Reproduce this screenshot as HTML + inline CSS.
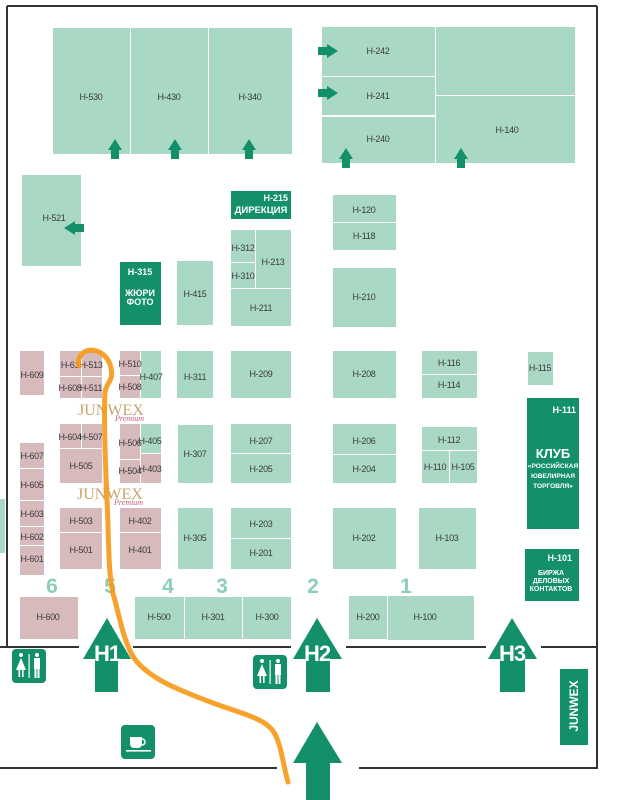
<!DOCTYPE html>
<html><head><meta charset="utf-8"><style>
html,body{margin:0;padding:0;background:#fff;}
svg{display:block;}
text{font-family:"Liberation Sans",sans-serif;}
.l{font-size:9px;fill:#3a3a3a;text-anchor:middle;letter-spacing:-0.3px;}
.w{fill:#fff;font-weight:bold;text-anchor:middle;}
.n{font-size:21px;font-weight:bold;fill:#8dcfb6;text-anchor:middle;}
</style></head><body>
<svg width="617" height="800" viewBox="0 0 617 800" xmlns="http://www.w3.org/2000/svg">
<!-- walls -->
<g stroke="#333" stroke-width="2" fill="none">
<line x1="7" y1="6" x2="597" y2="6"/>
<line x1="7" y1="6" x2="7" y2="647"/>
<line x1="597" y1="6" x2="597" y2="769"/>
<line x1="0" y1="647" x2="79" y2="647"/>
<line x1="133" y1="647" x2="291" y2="647"/>
<line x1="346" y1="647" x2="486" y2="647"/>
<line x1="541" y1="647" x2="597" y2="647"/>
<line x1="0" y1="768" x2="277" y2="768"/>
<line x1="359" y1="768" x2="597" y2="768"/>
</g>
<!-- light green boxes -->
<g fill="#a9d9c5">
<rect x="53" y="28" width="77" height="126"/>
<rect x="131" y="28" width="77" height="126"/>
<rect x="209" y="28" width="83" height="126"/>
<rect x="322" y="27" width="113" height="49"/>
<rect x="322" y="77" width="113" height="38"/>
<rect x="322" y="117" width="113" height="46"/>
<rect x="436" y="27" width="139" height="68"/>
<rect x="436" y="96" width="139" height="67"/>
<rect x="22" y="175" width="59" height="91"/>
<rect x="231" y="230" width="24" height="32"/>
<rect x="231" y="263" width="24" height="25"/>
<rect x="256" y="230" width="35" height="58"/>
<rect x="231" y="289" width="60" height="37"/>
<rect x="177" y="261" width="36" height="64"/>
<rect x="333" y="195" width="63" height="27"/>
<rect x="333" y="223" width="63" height="27"/>
<rect x="333" y="268" width="63" height="59"/>
<rect x="141" y="351" width="20" height="47"/>
<rect x="177" y="351" width="36" height="47"/>
<rect x="231" y="351" width="60" height="47"/>
<rect x="333" y="351" width="63" height="47"/>
<rect x="422" y="351" width="55" height="23"/>
<rect x="422" y="375" width="55" height="23"/>
<rect x="528" y="352" width="25" height="33"/>
<rect x="141" y="424" width="20" height="29"/>
<rect x="178" y="425" width="35" height="58"/>
<rect x="231" y="424" width="60" height="29"/>
<rect x="231" y="454" width="60" height="29"/>
<rect x="333" y="424" width="63" height="30"/>
<rect x="333" y="455" width="63" height="28"/>
<rect x="422" y="427" width="55" height="23"/>
<rect x="422" y="451" width="27" height="32"/>
<rect x="450" y="451" width="27" height="32"/>
<rect x="178" y="508" width="35" height="61"/>
<rect x="231" y="508" width="60" height="30"/>
<rect x="231" y="539" width="60" height="30"/>
<rect x="333" y="508" width="63" height="61"/>
<rect x="419" y="508" width="57" height="61"/>
<rect x="135" y="597" width="49" height="42"/>
<rect x="185" y="597" width="57" height="42"/>
<rect x="243" y="597" width="48" height="42"/>
<rect x="349" y="596" width="38" height="43"/>
<rect x="388" y="596" width="86" height="44"/>
<rect x="0" y="499" width="5" height="54"/>
</g>
<!-- pink boxes -->
<g fill="#d7babb">
<rect x="20" y="351" width="24" height="44"/>
<rect x="60" y="351" width="21" height="25"/>
<rect x="82" y="351" width="20" height="25"/>
<rect x="60" y="377" width="21" height="21"/>
<rect x="82" y="377" width="20" height="21"/>
<rect x="120" y="351" width="20" height="24"/>
<rect x="120" y="376" width="20" height="22"/>
<rect x="60" y="424" width="21" height="24"/>
<rect x="82" y="424" width="20" height="24"/>
<rect x="60" y="449" width="42" height="34"/>
<rect x="120" y="424" width="20" height="35"/>
<rect x="120" y="460" width="20" height="23"/>
<rect x="141" y="454" width="20" height="29"/>
<rect x="20" y="443" width="24" height="25"/>
<rect x="20" y="469" width="24" height="31"/>
<rect x="20" y="501" width="24" height="25"/>
<rect x="20" y="527" width="24" height="18"/>
<rect x="20" y="546" width="24" height="29"/>
<rect x="60" y="508" width="42" height="24"/>
<rect x="60" y="533" width="42" height="36"/>
<rect x="120" y="508" width="41" height="24"/>
<rect x="120" y="533" width="41" height="36"/>
<rect x="20" y="597" width="58" height="42"/>
</g>
<!-- dark green boxes -->
<g fill="#13906a">
<rect x="231" y="191" width="60" height="28"/>
<rect x="120" y="262" width="41" height="63"/>
<rect x="527" y="398" width="52" height="131"/>
<rect x="525" y="549" width="54" height="52"/>
<rect x="560" y="669" width="28" height="76"/>
</g>
<!-- labels -->
<g class="l">
<text x="91" y="100">H-530</text>
<text x="169" y="100">H-430</text>
<text x="250" y="100">H-340</text>
<text x="378" y="54">H-242</text>
<text x="378" y="99">H-241</text>
<text x="378" y="142">H-240</text>
<text x="507" y="133">H-140</text>
<text x="54" y="221">H-521</text>
<text x="243" y="251">H-312</text>
<text x="243" y="279">H-310</text>
<text x="273" y="265">H-213</text>
<text x="261" y="311">H-211</text>
<text x="195" y="297">H-415</text>
<text x="364" y="213">H-120</text>
<text x="364" y="239">H-118</text>
<text x="364" y="300">H-210</text>
<text x="151" y="380">H-407</text>
<text x="195" y="380">H-311</text>
<text x="261" y="377">H-209</text>
<text x="364" y="377">H-208</text>
<text x="449" y="366">H-116</text>
<text x="449" y="388">H-114</text>
<text x="540" y="371">H-115</text>
<text x="150" y="444">H-405</text>
<text x="195" y="457">H-307</text>
<text x="261" y="444">H-207</text>
<text x="261" y="472">H-205</text>
<text x="364" y="444">H-206</text>
<text x="364" y="472">H-204</text>
<text x="449" y="443">H-112</text>
<text x="435" y="470">H-110</text>
<text x="463" y="470">H-105</text>
<text x="195" y="541">H-305</text>
<text x="261" y="527">H-203</text>
<text x="261" y="556">H-201</text>
<text x="364" y="541">H-202</text>
<text x="447" y="541">H-103</text>
<text x="159" y="620">H-500</text>
<text x="213" y="620">H-301</text>
<text x="267" y="620">H-300</text>
<text x="368" y="620">H-200</text>
<text x="425" y="620">H-100</text>
<text x="32" y="378">H-609</text>
<text x="70" y="368">H-61</text>
<text x="91" y="368">H-513</text>
<text x="70" y="391">H-608</text>
<text x="91" y="391">H-511</text>
<text x="130" y="367">H-510</text>
<text x="130" y="390">H-508</text>
<text x="70" y="440">H-604</text>
<text x="91" y="440">H-507</text>
<text x="81" y="469">H-505</text>
<text x="130" y="446">H-506</text>
<text x="130" y="474">H-504</text>
<text x="150" y="472">H-403</text>
<text x="32" y="459">H-607</text>
<text x="32" y="488">H-605</text>
<text x="32" y="517">H-603</text>
<text x="32" y="540">H-602</text>
<text x="32" y="562">H-601</text>
<text x="81" y="524">H-503</text>
<text x="81" y="553">H-501</text>
<text x="140" y="524">H-402</text>
<text x="140" y="553">H-401</text>
<text x="48" y="620">H-600</text>
</g>
<!-- dark box text -->
<g class="w">
<text x="288" y="201" font-size="9" text-anchor="end" style="text-anchor:end">H-215</text>
<text x="261" y="213" font-size="9.5">ДИРЕКЦИЯ</text>
<text x="140" y="275" font-size="9">H-315</text>
<text x="140" y="296" font-size="9">ЖЮРИ</text>
<text x="140" y="305" font-size="9">ФОТО</text>
<text x="576" y="413" font-size="9" style="text-anchor:end">H-111</text>
<text x="553" y="458" font-size="13">КЛУБ</text>
<text x="553" y="468" font-size="6.6">«РОССИЙСКАЯ</text>
<text x="553" y="478" font-size="6.6">ЮВЕЛИРНАЯ</text>
<text x="553" y="488" font-size="6.6">ТОРГОВЛЯ»</text>
<text x="572" y="561" font-size="9" style="text-anchor:end">H-101</text>
<text x="551" y="575" font-size="7">БИРЖА</text>
<text x="551" y="583" font-size="7">ДЕЛОВЫХ</text>
<text x="551" y="591" font-size="7">КОНТАКТОВ</text>
<text x="0" y="0" font-size="12" transform="translate(578,706) rotate(-90)">JUNWEX</text>
</g>
<!-- row numbers -->
<g class="n">
<text x="52" y="593">6</text>
<text x="110" y="593">5</text>
<text x="168" y="593">4</text>
<text x="222" y="593">3</text>
<text x="313" y="593">2</text>
<text x="406" y="593">1</text>
</g>
<!-- JUNWEX logos -->
<g>
<text x="78" y="415" font-family="Liberation Serif,serif" font-size="16" fill="#c9a26e" style="font-family:'Liberation Serif',serif">JUNWEX</text>
<text x="115" y="421" font-size="8" fill="#b8607a" font-style="italic" style="font-family:'Liberation Serif',serif">Premium</text>
<text x="77" y="499" font-size="16" fill="#c9a26e" style="font-family:'Liberation Serif',serif">JUNWEX</text>
<text x="114" y="505" font-size="8" fill="#b8607a" font-style="italic" style="font-family:'Liberation Serif',serif">Premium</text>
</g>
<!-- small arrows -->
<g fill="#13906a">
<polygon points="115,139 122,150 119,150 119,159 111,159 111,150 108,150"/>
<polygon points="175,139 182,150 179,150 179,159 171,159 171,150 168,150"/>
<polygon points="249,139 256,150 253,150 253,159 245,159 245,150 242,150"/>
<polygon points="346,148 353,159 350,159 350,168 342,168 342,159 339,159"/>
<polygon points="461,148 468,159 465,159 465,168 457,168 457,159 454,159"/>
<polygon points="338,51 327,44 327,47 318,47 318,55 327,55 327,58"/>
<polygon points="338,93 327,86 327,89 318,89 318,97 327,97 327,100"/>
<polygon points="64,228 75,221 75,224 84,224 84,232 75,232 75,235"/>
<!-- big arrows -->
<polygon points="107,618 131,659 118,659 118,692 95,692 95,659 83,659"/>
<polygon points="317,618 342,659 330,659 330,692 306,692 306,659 293,659"/>
<polygon points="512,618 537,659 525,659 525,692 500,692 500,659 488,659"/>
<polygon points="317,722 342,763 330,763 330,800 306,800 306,763 293,763"/>
</g>
<g class="w" style="font-size:22px;letter-spacing:-1px">
<text x="107" y="661">H1</text>
<text x="317" y="661">H2</text>
<text x="512" y="661">H3</text>
</g>
<!-- toilet icons -->
<g>
<rect x="12" y="649" width="34" height="34" rx="4" fill="#13906a"/>
<g fill="#fff">
<circle cx="21" cy="655" r="2"/><polygon points="21,658 26,670 16,670"/><rect x="18.5" y="670" width="1.6" height="7"/><rect x="22" y="670" width="1.6" height="7"/>
<rect x="28.5" y="654" width="1.2" height="24"/>
<circle cx="37" cy="655" r="2"/><rect x="34" y="658" width="6" height="11"/><rect x="34.5" y="669" width="2" height="9"/><rect x="37.5" y="669" width="2" height="9"/>
</g>
<rect x="253" y="655" width="34" height="34" rx="4" fill="#13906a"/>
<g fill="#fff">
<circle cx="262" cy="661" r="2"/><polygon points="262,664 267,676 257,676"/><rect x="259.5" y="676" width="1.6" height="7"/><rect x="263" y="676" width="1.6" height="7"/>
<rect x="269.5" y="660" width="1.2" height="24"/>
<circle cx="278" cy="661" r="2"/><rect x="275" y="664" width="6" height="11"/><rect x="275.5" y="675" width="2" height="9"/><rect x="278.5" y="675" width="2" height="9"/>
</g>
<!-- coffee -->
<rect x="121" y="725" width="34" height="34" rx="4" fill="#13906a"/>
<path d="M130 737 h12 v7 a4 4 0 0 1 -4 4 h-4 a4 4 0 0 1 -4 -4 z" fill="#fff"/>
<path d="M142 739 a3 3 0 0 1 0 6" stroke="#fff" stroke-width="1.5" fill="none"/>
<rect x="126" y="750" width="25" height="1.6" fill="#fff"/>
</g>
<!-- orange route -->
<path d="M288 782 C283 765,281 742,273 731 C264 718,240 713,213 703 C182 691,150 680,134 658 C124 643,119 615,114 597 C108 578,109 540,107 500 C105 455,104 410,105 392 C106 383,114 381,111 368 C108 354,96 348,86 351 C80 354,77 360,79 366" stroke="#f59a1a" stroke-width="5" fill="none" stroke-linecap="round" stroke-linejoin="round" opacity="0.92"/>
</svg>
</body></html>
